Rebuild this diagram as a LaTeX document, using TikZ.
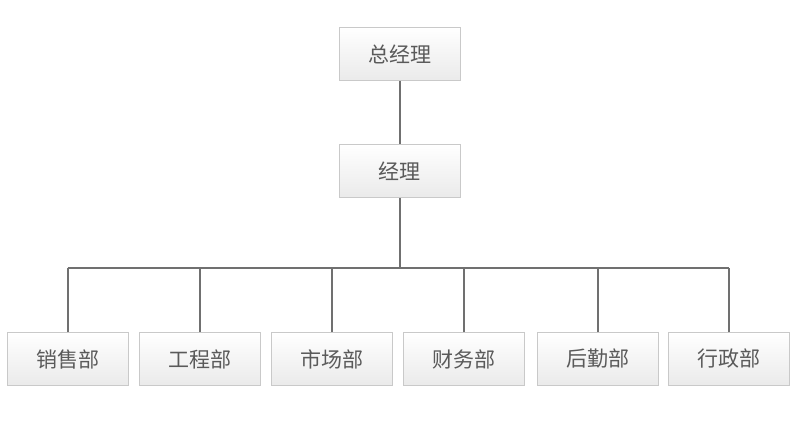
\documentclass[tikz,border=0pt]{standalone}
\usepackage{fontspec}
\newfontfamily\cjk{Noto Sans CJK SC}
\usetikzlibrary{shadows}
\definecolor{boxline}{HTML}{C9C9C9}
\definecolor{boxtop}{HTML}{FFFFFF}
\definecolor{boxbot}{HTML}{EAEAEA}
\definecolor{boxtext}{HTML}{5A5A5A}
\definecolor{wire}{HTML}{707070}
\begin{document}
\begin{tikzpicture}[
    x=1pt, y=-1pt,
    box/.style={rectangle, minimum width=121pt, minimum height=53pt, draw=boxline, line width=0.8pt,
        top color=boxtop, bottom color=boxbot, text=boxtext, font=\cjk\fontsize{21}{21}\selectfont,
        drop shadow={shadow xshift=0.6pt, shadow yshift=-0.8pt, opacity=0.25, fill=black!40}},
    wire/.style={draw=wire, line width=2pt}
]
    \useasboundingbox (0,0) rectangle (800,424);

    \node[box] at (399.5,54) (zjl) {总经理};
    \node[box] at (399.5,171) (jl) {经理};

    \node[box] at (67.5,359) (xs) {销售部};
    \node[box] at (199.5,359) (gc) {工程部};
    \node[box] at (331.5,359) (sc) {市场部};
    \node[box] at (464,359) (cw) {财务部};
    \node[box] at (597.5,359) (hq) {后勤部};
    \node[box] at (729,359) (xz) {行政部};

    \coordinate (bus) at (399.5,268);

    \draw[wire] (zjl) -- (jl);
    \draw[wire] (jl.south) -- (bus);
    \draw[wire] (xs.north |- bus) -- (xz.north |- bus);
    \foreach \d in {xs, gc, sc, cw, hq, xz}
        \draw[wire] (\d.north) -- (\d.north |- bus);
\end{tikzpicture}
\end{document}
